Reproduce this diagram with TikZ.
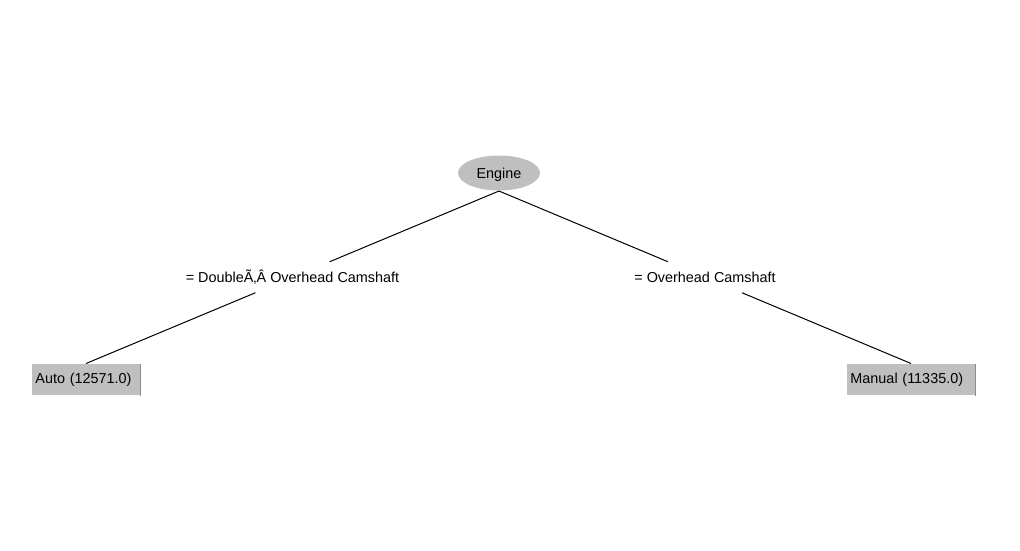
\documentclass[tikz,border=0pt]{standalone}
\usepackage{fontspec}
\setmainfont{Liberation Sans}
\usetikzlibrary{shapes.geometric}
\begin{document}
\begin{tikzpicture}[x=0.75pt,y=-0.75pt,line width=0.75pt,
  every node/.style={font=\fontsize{10.8}{13}\selectfont},
  rootnode/.style={ellipse,fill=black!25,inner sep=0pt,text depth=0pt,minimum width=61.5pt,minimum height=26.25pt},
  leafbox/.style={rectangle,fill=black!25,inner xsep=2.6pt,inner ysep=0pt,minimum height=23.25pt,align=left},
  edgelab/.style={rectangle,inner sep=0pt,minimum height=22.5pt,minimum width=170pt}]
\useasboundingbox (0,0) rectangle (1020,550);
\node[rootnode] (engine) at (499,173) {Engine};
\node[leafbox,text width=75.8pt] (auto) at (86,379.5) {Auto (12571.0)};
\node[leafbox,text width=90.8pt] (manual) at (911,379.5) {Manual (11335.0)};
\draw[black!45] (auto.north east)--(auto.south east);
\draw[black!45] (manual.north east)--(manual.south east);
\path (engine.south)--(auto.north) node[midway,edgelab] (dohc) {= DoubleÃ‚Â Overhead Camshaft};
\path (engine.south)--(manual.north) node[midway,edgelab] (ohc) {= Overhead Camshaft};
\draw (engine.south)--(dohc)--(auto.north);
\draw (engine.south)--(ohc)--(manual.north);
\end{tikzpicture}
\end{document}
